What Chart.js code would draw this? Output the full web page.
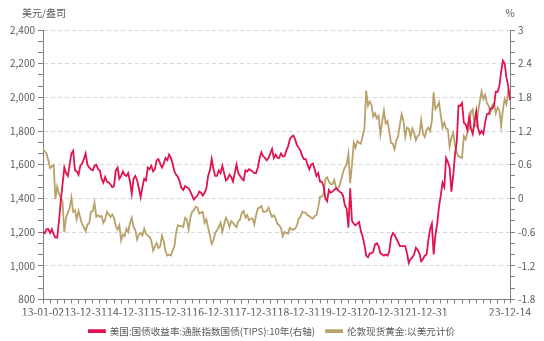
<!DOCTYPE html>
<html>
<head>
<meta charset="utf-8">
<script src="https://cdn.jsdelivr.net/npm/chart.js@4.4.1/dist/chart.umd.min.js"></script>
<style>
    html, body { margin: 0; padding: 0; background: #ffffff; }
    #wrap { width: 544px; height: 341px; }
</style>
</head>
<body>
<div id="wrap"><canvas id="goldChart" width="544" height="341"></canvas></div>
<script>
// =====================================
// Data (semi-monthly readings)
// =====================================

const dates = [
    "13-01-02",
    "13-01-15","13-01-31","13-02-15","13-02-28","13-03-15","13-03-31","13-04-15","13-04-30","13-05-15","13-05-31","13-06-15","13-06-30",
    "13-07-15","13-07-31","13-08-15","13-08-31","13-09-15","13-09-30","13-10-15","13-10-31","13-11-15","13-11-30","13-12-15","13-12-31",
    "14-01-15","14-01-31","14-02-15","14-02-28","14-03-15","14-03-31","14-04-15","14-04-30","14-05-15","14-05-31","14-06-15","14-06-30",
    "14-07-15","14-07-31","14-08-15","14-08-31","14-09-15","14-09-30","14-10-15","14-10-31","14-11-15","14-11-30","14-12-15","14-12-31",
    "15-01-15","15-01-31","15-02-15","15-02-28","15-03-15","15-03-31","15-04-15","15-04-30","15-05-15","15-05-31","15-06-15","15-06-30",
    "15-07-15","15-07-31","15-08-15","15-08-31","15-09-15","15-09-30","15-10-15","15-10-31","15-11-15","15-11-30","15-12-15","15-12-31",
    "16-01-15","16-01-31","16-02-15","16-02-29","16-03-15","16-03-31","16-04-15","16-04-30","16-05-15","16-05-31","16-06-15","16-06-30",
    "16-07-15","16-07-31","16-08-15","16-08-31","16-09-15","16-09-30","16-10-15","16-10-31","16-11-15","16-11-30","16-12-15","16-12-31",
    "17-01-15","17-01-31","17-02-15","17-02-28","17-03-15","17-03-31","17-04-15","17-04-30","17-05-15","17-05-31","17-06-15","17-06-30",
    "17-07-15","17-07-31","17-08-15","17-08-31","17-09-15","17-09-30","17-10-15","17-10-31","17-11-15","17-11-30","17-12-15","17-12-31",
    "18-01-15","18-01-31","18-02-15","18-02-28","18-03-15","18-03-31","18-04-15","18-04-30","18-05-15","18-05-31","18-06-15","18-06-30",
    "18-07-15","18-07-31","18-08-15","18-08-31","18-09-15","18-09-30","18-10-15","18-10-31","18-11-15","18-11-30","18-12-15","18-12-31",
    "19-01-15","19-01-31","19-02-15","19-02-28","19-03-15","19-03-31","19-04-15","19-04-30","19-05-15","19-05-31","19-06-15","19-06-30",
    "19-07-15","19-07-31","19-08-15","19-08-31","19-09-15","19-09-30","19-10-15","19-10-31","19-11-15","19-11-30","19-12-15","19-12-31",
    "20-01-15","20-01-31","20-02-15","20-02-29","20-03-15","20-03-31","20-04-15","20-04-30","20-05-15","20-05-31","20-06-15","20-06-30",
    "20-07-15","20-07-31","20-08-15","20-08-31","20-09-15","20-09-30","20-10-15","20-10-31","20-11-15","20-11-30","20-12-15","20-12-31",
    "21-01-15","21-01-31","21-02-15","21-02-28","21-03-15","21-03-31","21-04-15","21-04-30","21-05-15","21-05-31","21-06-15","21-06-30",
    "21-07-15","21-07-31","21-08-15","21-08-31","21-09-15","21-09-30","21-10-15","21-10-31","21-11-15","21-11-30","21-12-15","21-12-31",
    "22-01-15","22-01-31","22-02-15","22-02-28","22-03-15","22-03-31","22-04-15","22-04-30","22-05-15","22-05-31","22-06-15","22-06-30",
    "22-07-15","22-07-31","22-08-15","22-08-31","22-09-15","22-09-30","22-10-15","22-10-31","22-11-15","22-11-30","22-12-15","22-12-31",
    "23-01-15","23-01-31","23-02-15","23-02-28","23-03-15","23-03-31","23-04-15","23-04-30","23-05-15","23-05-31","23-06-15","23-06-30",
    "23-07-15","23-07-31","23-08-15","23-08-31","23-09-15","23-09-30","23-10-15","23-10-31","23-11-15","23-11-30","23-12-14"
];

// 10Y TIPS yield, % (right axis)
const tipsYield = [
    -0.60,
    -0.62,-0.55, -0.55,-0.62, -0.55,-0.64, -0.70,-0.70, -0.40,-0.05, 0.25,0.55, 0.45,0.40, 0.60,0.80, 0.85,0.50, 0.48,0.42, 0.58,0.62, 0.70,0.80,
    0.60,0.55, 0.52,0.50, 0.58,0.60, 0.52,0.50, 0.35,0.28, 0.38,0.30, 0.28,0.25, 0.20,0.22, 0.50,0.55, 0.35,0.40, 0.48,0.42, 0.40,0.45,
    0.30,0.08, 0.35,0.40, 0.32,0.18, 0.02,0.20, 0.35,0.32, 0.55,0.52, 0.58,0.48, 0.52,0.68, 0.70,0.62, 0.55,0.62, 0.72,0.68, 0.78,0.72,
    0.62,0.48, 0.42,0.38, 0.30,0.18, 0.15,0.22, 0.20,0.18, 0.12,0.05, -0.02,0.02, 0.05,0.12, 0.10,0.05, 0.10,0.18, 0.40,0.50, 0.70,0.52,
    0.40,0.40, 0.50,0.45, 0.58,0.45, 0.32,0.35, 0.42,0.38, 0.30,0.45, 0.60,0.45, 0.40,0.35, 0.32,0.50, 0.48,0.52, 0.50,0.48, 0.45,0.45,
    0.55,0.72, 0.82,0.75, 0.72,0.68, 0.72,0.80, 0.88,0.72, 0.78,0.72, 0.72,0.80, 0.75,0.75, 0.85,0.92, 1.05,1.10, 1.12,1.05, 0.95,0.90,
    0.85,0.75, 0.70,0.70, 0.60,0.52, 0.60,0.62, 0.52,0.40, 0.45,0.30, 0.30,0.22, 0.00,-0.05, 0.15,0.10, 0.12,0.15, 0.18,0.15, 0.12,0.10,
    0.05,-0.12, -0.18,-0.52, 0.18,-0.40, -0.45,-0.48, -0.45,-0.42, -0.58,-0.68, -0.82,-1.02, -1.05,-0.98, -0.98,-0.95, -0.82,-0.80, -0.85,-0.98, -1.00,-1.02,
    -1.00,-1.02, -0.95,-0.70, -0.62,-0.65, -0.72,-0.78, -0.85,-0.85, -0.85,-0.85, -0.98,-1.15, -1.08,-1.05, -1.00,-0.88, -0.92,-0.98, -1.12,-1.08, -1.02,-1.00,
    -0.75,-0.55, -0.45,-1.00, -0.65,-0.45, -0.15,0.05, 0.28,0.20, 0.72,0.65, 0.55,0.12, 0.40,0.78, 1.00,1.65, 1.65,1.70, 1.35,1.32, 1.22,1.45,
    1.25,1.15, 1.35,1.55, 1.25,1.15, 1.20,1.15, 1.35,1.50, 1.50,1.60, 1.60,1.65, 1.90,1.90, 2.00,2.25, 2.45,2.40, 2.15,2.00, 1.75
];

// London spot gold, USD/oz (left axis)
const goldPrice = [
    1690,
    1680,1665, 1625,1580, 1590,1598, 1395,1470, 1425,1405, 1380,1200, 1285,1315, 1340,1405, 1320,1330, 1275,1325, 1285,1245, 1230,1205,
    1245,1250, 1320,1325, 1375,1290, 1300,1290, 1295,1255, 1275,1320, 1305,1290, 1305,1285, 1235,1215, 1240,1150, 1185,1175, 1220,1200,
    1255,1285, 1230,1210, 1155,1185, 1195,1180, 1220,1190, 1180,1170, 1150,1090, 1115,1135, 1105,1115, 1180,1145, 1085,1060, 1065,1060,
    1090,1115, 1200,1240, 1235,1235, 1230,1285, 1275,1215, 1285,1320, 1330,1350, 1345,1310, 1315,1320, 1255,1275, 1225,1180, 1130,1150,
    1195,1210, 1230,1255, 1200,1245, 1285,1265, 1230,1265, 1255,1240, 1230,1265, 1275,1315, 1325,1285, 1300,1270, 1280,1280, 1245,1300,
    1340,1345, 1355,1320, 1320,1325, 1345,1315, 1290,1300, 1280,1250, 1240,1225, 1175,1200, 1195,1190, 1225,1215, 1215,1220, 1240,1280,
    1290,1320, 1315,1315, 1300,1295, 1285,1280, 1295,1300, 1345,1410, 1410,1425, 1515,1525, 1500,1485, 1485,1510, 1465,1460, 1475,1515,
    1555,1585, 1600,1665, 1490,1600, 1730,1700, 1740,1730, 1725,1770, 1810,2040, 1950,1975, 1955,1885, 1905,1875, 1890,1780, 1855,1920,
    1845,1860, 1800,1730, 1725,1690, 1745,1770, 1840,1900, 1860,1765, 1820,1815, 1765,1815, 1790,1745, 1770,1780, 1865,1785, 1765,1805,
    1820,1800, 1860,2030, 1930,1945, 1970,1895, 1820,1850, 1815,1810, 1705,1760, 1790,1720, 1670,1650, 1645,1640, 1770,1750, 1790,1815,
    1915,1930, 1835,1830, 1915,1975, 2035,1990, 2015,1965, 1950,1910, 1955,1965, 1905,1940, 1925,1830, 1925,1990, 1960,2040, 2030
];

const xTickLabels = [
    "13-01-02", "13-12-31", "14-12-31", "15-12-31", "16-12-31", "17-12-31",
    "18-12-31", "19-12-31", "20-12-31", "21-12-31", "23-12-14"
];

// =====================================
// Styles
// =====================================

const FONT = '"Noto Sans CJK SC", "Noto Sans", sans-serif';
const TEXT = "#595959";
const AXIS = "#7f7f7f";
const RED = "#e0134f";
const GOLD = "#b9a16b";

// axis unit titles above the plot
const axisTitles = {
    id: "axisTitles",
    afterDraw(chart) {
        const ctx = chart.ctx;
        const area = chart.chartArea;
        ctx.save();
        ctx.font = "10px " + FONT;
        ctx.fillStyle = TEXT;
        ctx.textBaseline = "middle";
        ctx.textAlign = "left";
        ctx.fillText("美元/盎司", 22, 13);
        ctx.textAlign = "center";
        ctx.fillText("%", area.right, 13);
        ctx.restore();
    }
};

// =====================================
// Chart
// =====================================

new Chart(document.getElementById("goldChart"), {
    type: "line",
    data: {
        labels: dates,
        datasets: [{
            label: "美国:国债收益率:通胀指数国债(TIPS):10年(右轴)",
            data: tipsYield,
            yAxisID: "y1",
            borderColor: RED,
            backgroundColor: RED,
            borderWidth: 1.8,
            pointRadius: 0,
            tension: 0,
            fill: false
        }, {
            label: "伦敦现货黄金:以美元计价",
            data: goldPrice,
            yAxisID: "y",
            borderColor: GOLD,
            backgroundColor: GOLD,
            borderWidth: 1.8,
            pointRadius: 0,
            tension: 0,
            fill: false
        }]
    },
    options: {
        responsive: false,
        animation: false,
        devicePixelRatio: 1,
        layout: {
            padding: { top: 30, bottom: -5, left: 0, right: 0 }
        },
        plugins: {
            tooltip: { enabled: false },
            legend: {
                position: "bottom",
                align: "center",
                labels: {
                    boxWidth: 16,
                    boxHeight: 2,
                    padding: 11,
                    color: TEXT,
                    font: { family: FONT, size: 9.6 }
                }
            }
        },
        scales: {
            x: {
                type: "category",
                offset: false,
                grid: {
                    drawOnChartArea: false,
                    drawTicks: true,
                    tickLength: 4,
                    tickColor: AXIS
                },
                border: { color: AXIS },
                ticks: {
                    autoSkip: false,
                    maxRotation: 0,
                    minRotation: 0,
                    padding: 2,
                    color: TEXT,
                    font: { family: FONT, size: 10.5 },
                    callback: function (value) {
                        const label = this.getLabelForValue(value);
                        return xTickLabels.includes(label) ? label : "";
                    }
                },
                afterBuildTicks: function (scale) {
                    scale.ticks = scale.ticks.filter(function (t) {
                        return t.value % 4 === 0 || t.value === dates.length - 1;
                    });
                },
                afterFit: function (scale) {
                    scale.height = 16;
                }
            },
            y: {
                type: "linear",
                position: "left",
                min: 800,
                max: 2400,
                grid: {
                    color: function (ctx) {
                        return ctx.index % 3 === 0 ? "#d9d9d9" : "rgba(0,0,0,0)";
                    },
                    drawTicks: true,
                    tickLength: 5,
                    tickColor: AXIS
                },
                border: { color: AXIS, dash: [4, 3] },
                ticks: {
                    autoSkip: false,
                    padding: 3,
                    color: TEXT,
                    font: { family: FONT, size: 10 },
                    callback: function (value, index) {
                        return index % 3 === 0 ? Math.round(value).toLocaleString("en-US") : "";
                    }
                },
                afterBuildTicks: function (scale) {
                    const ticks = [];
                    for (let k = 0; k <= 24; k++) {
                        ticks.push({ value: 800 + k * 200 / 3 });
                    }
                    scale.ticks = ticks;
                },
                afterFit: function (scale) {
                    scale.width = 43;
                }
            },
            y1: {
                type: "linear",
                position: "right",
                min: -1.8,
                max: 3,
                grid: {
                    drawOnChartArea: false,
                    drawTicks: true,
                    tickLength: 5,
                    tickColor: AXIS
                },
                border: { color: AXIS },
                ticks: {
                    autoSkip: false,
                    padding: 3,
                    color: TEXT,
                    font: { family: FONT, size: 10 },
                    callback: function (value, index) {
                        return index % 3 === 0 ? String(Math.round(value * 10) / 10) : "";
                    }
                },
                afterBuildTicks: function (scale) {
                    const ticks = [];
                    for (let k = 0; k <= 24; k++) {
                        ticks.push({ value: Math.round((-1.8 + k * 0.2) * 10) / 10 });
                    }
                    scale.ticks = ticks;
                },
                afterFit: function (scale) {
                    scale.width = 34;
                }
            }
        }
    },
    plugins: [axisTitles]
});
</script>
</body>
</html>
